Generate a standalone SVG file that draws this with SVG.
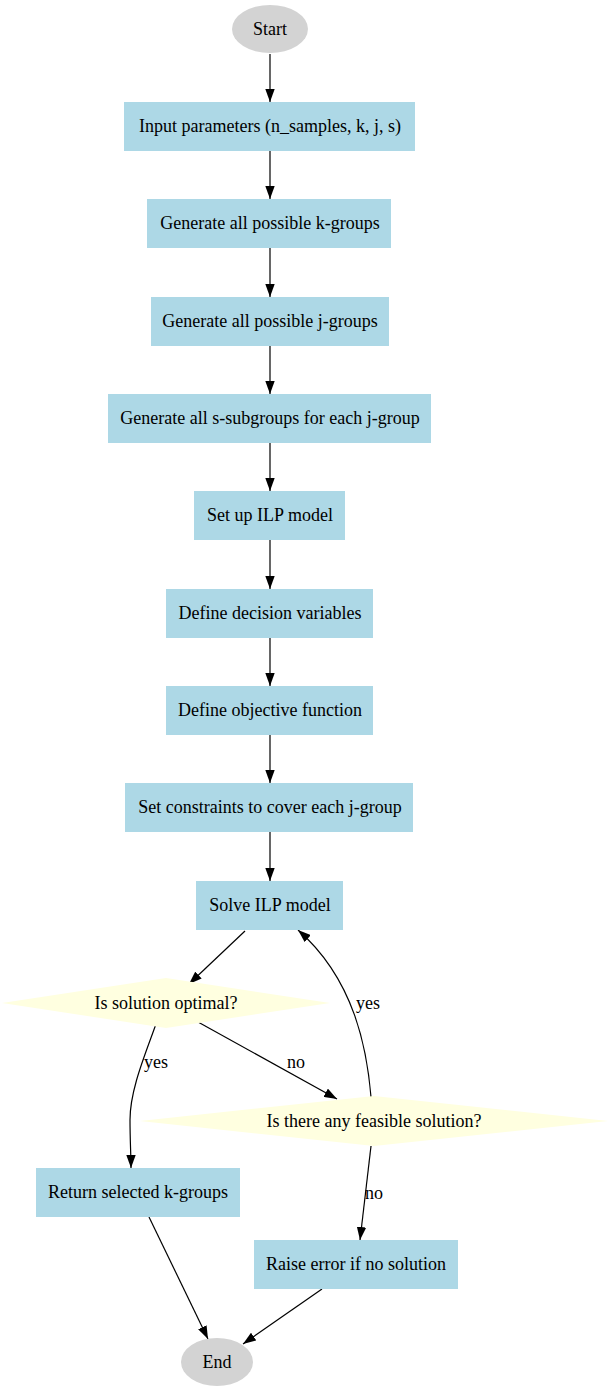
<svg xmlns="http://www.w3.org/2000/svg" width="609" height="1391" viewBox="0 0 609 1391">
<style>
text{font-family:"Liberation Serif","Times New Roman",serif;font-size:18px;fill:#000;text-anchor:middle}
.box{fill:#add8e6}
.dia{fill:#ffffe0}
.term{fill:#d3d3d3}
.edge{fill:none;stroke:#000;stroke-width:1.2;marker-end:url(#arr)}
.lbl{text-anchor:start}
</style>
<defs>
<marker id="arr" viewBox="0 0 13 9.4" refX="13" refY="4.7" markerWidth="13" markerHeight="9.4" markerUnits="userSpaceOnUse" orient="auto">
<path d="M0,0 L13,4.7 L0,9.4 z" fill="#000"/>
</marker>
</defs>
<rect width="609" height="1391" fill="#fff"/>
<g id="connectors">
<path class="edge" d="M270,54 L270,102"/>
<path class="edge" d="M270,151 L270,199"/>
<path class="edge" d="M270,248 L270,297"/>
<path class="edge" d="M270,346 L270,394"/>
<path class="edge" d="M270,443 L270,491"/>
<path class="edge" d="M270,540 L270,589"/>
<path class="edge" d="M270,638 L270,686"/>
<path class="edge" d="M270,735 L270,783"/>
<path class="edge" d="M270,832 L270,881"/>
<path class="edge" d="M245,931 L189,984"/>
<path class="edge" d="M156,1024 C145,1055 130,1090 130,1120 C130,1140 131,1155 131,1168"/>
<path class="edge" d="M198,1022 L337,1099"/>
<path class="edge" d="M371,1097 C367,1050 355,980 298,930"/>
<path class="edge" d="M371,1146 L360,1240"/>
<path class="edge" d="M149,1217 L208,1339"/>
<path class="edge" d="M322,1289 L243,1344"/>
<text class="lbl" x="144" y="1068">yes</text>
<text class="lbl" x="287" y="1068">no</text>
<text class="lbl" x="356" y="1009">yes</text>
<text class="lbl" x="365" y="1199">no</text>
</g>
<g id="start"><ellipse class="term" cx="270" cy="29" rx="38" ry="24"/><text x="270" y="35">Start</text></g>
<g id="input"><rect class="box" x="124" y="102" width="291" height="49"/><text x="270" y="132">Input parameters (n_samples, k, j, s)</text></g>
<g id="kgroups"><rect class="box" x="147" y="199" width="244" height="49"/><text x="270" y="229">Generate all possible k-groups</text></g>
<g id="jgroups"><rect class="box" x="151" y="297" width="238" height="49"/><text x="270" y="327">Generate all possible j-groups</text></g>
<g id="ssub"><rect class="box" x="108" y="394" width="323" height="49"/><text x="270" y="424">Generate all s-subgroups for each j-group</text></g>
<g id="setup"><rect class="box" x="194" y="491" width="151" height="49"/><text x="270" y="521">Set up ILP model</text></g>
<g id="decision"><rect class="box" x="166" y="589" width="207" height="49"/><text x="270" y="619">Define decision variables</text></g>
<g id="objective"><rect class="box" x="166" y="686" width="207" height="49"/><text x="270" y="716">Define objective function</text></g>
<g id="constraints"><rect class="box" x="125" y="783" width="288" height="49"/><text x="270" y="813">Set constraints to cover each j-group</text></g>
<g id="solve"><rect class="box" x="196" y="881" width="147" height="49"/><text x="270" y="911">Solve ILP model</text></g>
<g id="optimal"><polygon class="dia" points="166,978 330,1003 166,1028 2,1003"/><text x="166" y="1009">Is solution optimal?</text></g>
<g id="feasible"><polygon class="dia" points="374,1096 608,1121 374,1146 140,1121"/><text x="374" y="1127">Is there any feasible solution?</text></g>
<g id="return"><rect class="box" x="36" y="1168" width="204" height="49"/><text x="138" y="1198">Return selected k-groups</text></g>
<g id="raise"><rect class="box" x="254" y="1240" width="204" height="49"/><text x="356" y="1270">Raise error if no solution</text></g>
<g id="end"><ellipse class="term" cx="217" cy="1362" rx="36" ry="24"/><text x="217" y="1368">End</text></g>
</svg>
